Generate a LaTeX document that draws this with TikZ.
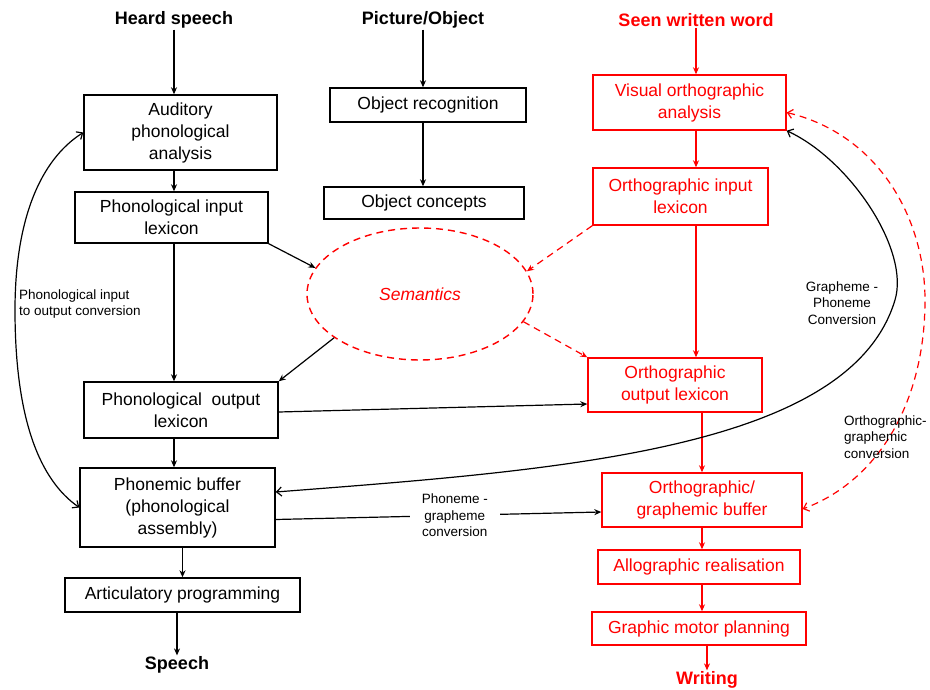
\documentclass[tikz,border=0pt]{standalone}
\usepackage{fontspec}
\setmainfont{Liberation Sans}
\usetikzlibrary{arrows.meta,shapes.geometric,calc}
\newcommand\boxfont{\fontsize{17.5}{22}\selectfont}
\newcommand\headfont{\fontsize{18}{22}\selectfont\bfseries}
\newcommand\smallfont{\fontsize{13.5}{16.5}\selectfont}
\begin{document}
\begin{tikzpicture}[x=1pt,y=-1pt,
  box/.style={draw, line width=1.4pt, inner sep=2pt, align=center, font=\boxfont},
  rbox/.style={box, draw=red, text=red},
  head/.style={font=\headfont, inner sep=1pt},
  arr/.style={line width=1.2pt, -{Stealth[length=7pt,width=6pt]}},
  rarr/.style={arr, red},
  rdarr/.style={arr, red, dash pattern=on 7pt off 5pt},
  curve/.style={line width=1.2pt, {Straight Barb[length=5pt,width=9pt]}-{Straight Barb[length=5pt,width=9pt]}},
  dcurve/.style={curve, red, dash pattern=on 7pt off 5pt},
  lab/.style={font=\smallfont, inner sep=1pt}]
\useasboundingbox (0,0) rectangle (930,690);

% headings
\node[head] (hs) at (174,20) {Heard speech};
\node[head] (po) at (423,20) {Picture/Object};
\node[head, text=red] (swr) at (696,20) {Seen written word};
\node[head] (sp) at (177,665) {Speech};
\node[head, text=red] (wr) at (707,680) {Writing};

% spoken route
\node[box, minimum width=193pt, minimum height=75pt] (aud) at (180.5,132.5) {Auditory\\phonological\\analysis};
\node[box, minimum width=193pt, minimum height=51pt] (pil) at (171.5,217.5) {Phonological input\\lexicon};
\node[box, minimum width=194pt, minimum height=56pt] (pol) at (181,410) {Phonological\ \ output\\lexicon};
\node[box, minimum width=195pt, minimum height=79pt] (pb) at (177.5,507.5) {Phonemic buffer\\(phonological\\assembly)};
\node[box, minimum width=235pt, minimum height=34pt] (art) at (182.5,595) {Articulatory programming};

% objects
\node[box, minimum width=196pt, minimum height=34pt] (orec) at (428,105) {Object recognition};
\node[box, minimum width=200pt, minimum height=32pt] (ocon) at (424,203) {Object concepts};

% semantics
\node[ellipse, draw=red, line width=1.4pt, dash pattern=on 7pt off 5pt,
      minimum width=226pt, minimum height=132pt, text=red, font=\boxfont\itshape] (sem) at (420,294) {Semantics};

% written route
\node[rbox, minimum width=193pt, minimum height=55pt] (voa) at (689.5,102.5) {Visual orthographic\\analysis};
\node[rbox, minimum width=175pt, minimum height=57pt] (oil) at (680.5,196.5) {Orthographic input\\lexicon};
\node[rbox, minimum width=174pt, minimum height=54pt] (ool) at (675,385) {Orthographic\\output lexicon};
\node[rbox, minimum width=200pt, minimum height=54pt] (ogb) at (702,500) {Orthographic/\\graphemic buffer};
\node[rbox, minimum width=202pt, minimum height=34pt] (allo) at (699,567) {Allographic realisation};
\node[rbox, minimum width=214pt, minimum height=33pt] (gmp) at (699,628.5) {Graphic motor planning};

% vertical flow, left column
\draw[arr] (hs.south) -- (aud.north -| hs);
\draw[arr] (aud.south -| hs) -- (pil.north -| hs);
\draw[arr] (pil.south -| hs) -- (pol.north -| hs);
\draw[arr] (pol.south -| hs) -- (pb.north -| hs);
\draw[arr] (pb.south -| art) -- (art.north);
\draw[arr] (art.south -| sp) -- (sp.north);

% vertical flow, middle column
\draw[arr] (po.south) -- (orec.north -| po);
\draw[arr] (orec.south -| po) -- (ocon.north -| po);

% vertical flow, right column
\draw[rarr] (swr.south) -- (voa.north -| swr);
\draw[rarr] (voa.south -| swr) -- (oil.north -| swr);
\draw[rarr] (oil.south -| swr) -- (ool.north -| swr);
\draw[rarr] (ool.south -| ogb) -- (ogb.north);
\draw[rarr] (ogb.south) -- (allo.north -| ogb);
\draw[rarr] (allo.south -| ogb) -- (gmp.north -| ogb);
\draw[rarr] (gmp.south -| wr) -- (wr.north);

% links through semantics
\draw[arr] (pil.south east) -- (sem.166);
\draw[arr] (sem.207) -- (pol.north east);
\draw[rdarr] (oil.south west) -- (sem.12);
\draw[rdarr] (sem.345) -- (ool.north west);

% lexical and sublexical links
\draw[arr] ([yshift=-2pt]pol.east) -- ([yshift=-19pt]ool.west);
\draw[arr] ([yshift=-12pt]pb.east) --
  node[pos=0.55, fill=white, lab, align=center, inner xsep=12pt] (pgc) {Phoneme -\\grapheme\\conversion}
  ([yshift=-12pt]ogb.west);

% conversion loops
\coordinate (lbend) at (15,310);
\draw[curve] (aud.west) .. controls (40,160) and (15,220) .. (lbend)
  .. controls (15,420) and (40,480) .. (pb.west);
\node[lab, anchor=west, align=left] (lpc) at (18,304) {Phonological input\\to output conversion};

\coordinate (gbend) at (895,300);
\draw[curve] ([yshift=15.5pt]pb.east) .. controls (560,470) and (850,450) .. (gbend)
  .. controls (910,250) and (850,160) .. (voa.south east);
\node[lab, align=center] (gpc) at (842,303) {Grapheme -\\Phoneme\\Conversion};

\coordinate (rbend) at (925,300);
\draw[dcurve] ([yshift=-10pt]voa.east) .. controls (880,135) and (925,220) .. (rbend)
  .. controls (925,400) and (880,480) .. ([yshift=-9pt]ogb.east);
\node[lab, anchor=west, align=left] (ogc) at (843,437) {Orthographic-\\graphemic\\conversion};
\end{tikzpicture}
\end{document}
